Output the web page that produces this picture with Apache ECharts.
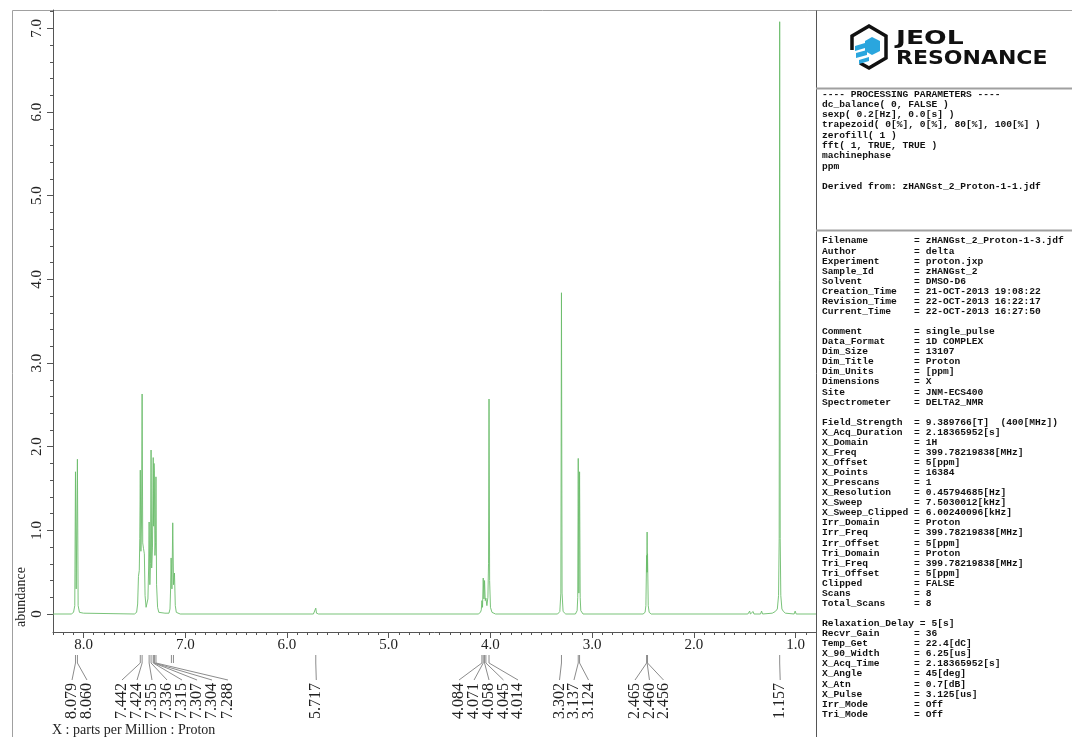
<!DOCTYPE html>
<html>
<head>
<meta charset="utf-8">
<script src="https://cdn.jsdelivr.net/npm/echarts@6/dist/echarts.min.js"></script>
<style>
  html, body { margin: 0; padding: 0; background: #ffffff; }
  #chart { width: 1072px; height: 737px; }
</style>
</head>
<body>
<div id="chart"></div>
<script>
// ---- 1H NMR spectrum (ppm, abundance) : vertices of the trace ----
const spectrum = [
  [8.30, 0.00], [8.12, 0.00], [8.098, 0.02], [8.086, 0.10], [8.079, 1.70], [8.072, 0.30],
  [8.067, 0.32], [8.060, 1.85], [8.053, 0.10], [8.040, 0.02], [8.00, 0.01],
  [7.50, 0.00], [7.478, 0.02], [7.468, 0.12], [7.460, 0.45], [7.452, 0.52], [7.447, 0.90],
  [7.442, 1.72], [7.436, 0.75], [7.430, 1.10], [7.424, 2.63], [7.418, 0.85], [7.410, 0.78],
  [7.402, 0.72], [7.395, 0.22], [7.385, 0.08], [7.375, 0.06], [7.367, 0.18], [7.360, 0.55],
  [7.355, 1.10], [7.348, 0.35], [7.342, 0.60], [7.336, 1.96], [7.330, 0.55], [7.322, 0.80],
  [7.315, 1.87], [7.311, 1.05], [7.307, 1.80], [7.304, 1.72], [7.298, 0.70], [7.292, 0.85],
  [7.288, 1.64], [7.282, 0.35], [7.272, 0.08], [7.260, 0.02], [7.20, 0.01],
  [7.160, 0.01], [7.150, 0.06], [7.144, 0.30], [7.139, 0.67], [7.131, 0.30], [7.123, 1.09],
  [7.115, 0.35], [7.106, 0.49], [7.098, 0.10], [7.088, 0.02], [7.05, 0.00],
  [5.74, 0.00], [5.724, 0.01], [5.717, 0.07], [5.710, 0.01], [5.69, 0.00],
  [4.12, 0.00], [4.098, 0.02], [4.090, 0.05], [4.084, 0.16], [4.078, 0.08], [4.071, 0.43],
  [4.064, 0.18], [4.058, 0.40], [4.051, 0.16], [4.045, 0.19], [4.035, 0.10], [4.025, 0.20],
  [4.019, 0.60], [4.014, 2.57], [4.008, 0.40], [4.000, 0.08], [3.985, 0.02], [3.95, 0.00],
  [3.34, 0.00], [3.318, 0.03], [3.308, 0.25], [3.302, 3.84], [3.296, 0.25], [3.286, 0.03],
  [3.26, 0.00],
  [3.165, 0.00], [3.148, 0.04], [3.142, 0.20], [3.137, 1.86], [3.131, 0.25], [3.124, 1.70],
  [3.118, 0.20], [3.112, 0.04], [3.09, 0.00],
  [2.50, 0.00], [2.480, 0.02], [2.472, 0.10], [2.465, 0.70], [2.462, 0.50], [2.460, 0.98],
  [2.458, 0.50], [2.456, 0.72], [2.449, 0.10], [2.440, 0.02], [2.42, 0.00],
  [1.47, 0.00], [1.452, 0.035], [1.445, 0.00], [1.418, 0.03], [1.410, 0.00],
  [1.345, 0.00], [1.335, 0.035], [1.325, 0.00], [1.23, 0.01], [1.20, 0.03], [1.180, 0.06],
  [1.168, 0.22], [1.162, 0.90], [1.157, 7.08], [1.152, 0.90], [1.146, 0.22], [1.135, 0.06],
  [1.120, 0.03], [1.10, 0.01], [1.015, 0.00], [1.005, 0.035], [0.995, 0.00], [0.80, 0.00]
];

// ---- picked peaks and where their labels sit along the ppm axis ----
const peakPpm = [8.079, 8.060, 7.442, 7.424, 7.355, 7.336, 7.315, 7.307, 7.304, 7.288,
  5.717, 4.084, 4.071, 4.058, 4.045, 4.014, 3.302, 3.137, 3.124, 2.465, 2.460, 2.456, 1.157];
const labelSlotPpm = [8.113, 7.966, 7.622, 7.474, 7.327, 7.179, 7.032, 6.884, 6.737, 6.580,
  5.712, 4.309, 4.161, 4.014, 3.872, 3.729, 3.321, 3.179, 3.036, 2.579, 2.437, 2.299, 1.152];
const unlabeledMarks = [7.136, 7.116];

// ---- axes ----
const xRange = [0.8, 8.3];
const yRange = [-0.215, 7.22];
const xMajorTicks = [8, 7, 6, 5, 4, 3, 2, 1];
const yMajorTicks = [0, 1, 2, 3, 4, 5, 6, 7];
const xMinorStep = 0.1;
const yMinorStep = 0.2;

// ---- parameter panel text ----
const processingLines = [
  '---- PROCESSING PARAMETERS ----',
  'dc_balance( 0, FALSE )',
  'sexp( 0.2[Hz], 0.0[s] )',
  'trapezoid( 0[%], 0[%], 80[%], 100[%] )',
  'zerofill( 1 )',
  'fft( 1, TRUE, TRUE )',
  'machinephase',
  'ppm',
  '',
  'Derived from: zHANGst_2_Proton-1-1.jdf'
];
const paramNames = [
  'Filename', 'Author', 'Experiment', 'Sample_Id', 'Solvent', 'Creation_Time', 'Revision_Time', 'Current_Time', '',
  'Comment', 'Data_Format', 'Dim_Size', 'Dim_Title', 'Dim_Units', 'Dimensions', 'Site', 'Spectrometer', '',
  'Field_Strength', 'X_Acq_Duration', 'X_Domain', 'X_Freq', 'X_Offset', 'X_Points', 'X_Prescans', 'X_Resolution',
  'X_Sweep', 'X_Sweep_Clipped', 'Irr_Domain', 'Irr_Freq', 'Irr_Offset', 'Tri_Domain', 'Tri_Freq', 'Tri_Offset',
  'Clipped', 'Scans', 'Total_Scans', '',
  'Relaxation_Delay', 'Recvr_Gain', 'Temp_Get', 'X_90_Width', 'X_Acq_Time', 'X_Angle', 'X_Atn', 'X_Pulse',
  'Irr_Mode', 'Tri_Mode'
];
const paramValues = [
  'zHANGst_2_Proton-1-3.jdf', 'delta', 'proton.jxp', 'zHANGst_2', 'DMSO-D6', '21-OCT-2013 19:08:22',
  '22-OCT-2013 16:22:17', '22-OCT-2013 16:27:50', '',
  'single_pulse', '1D COMPLEX', '13107', 'Proton', '[ppm]', 'X', 'JNM-ECS400', 'DELTA2_NMR', '',
  '9.389766[T]  (400[MHz])', '2.18365952[s]', '1H', '399.78219838[MHz]', '5[ppm]', '16384', '1',
  '0.45794685[Hz]', '7.5030012[kHz]', '6.00240096[kHz]', 'Proton', '399.78219838[MHz]', '5[ppm]',
  'Proton', '399.78219838[MHz]', '5[ppm]', 'FALSE', '8', '8', '',
  '5[s]', '36', '22.4[dC]', '6.25[us]', '2.18365952[s]', '45[deg]', '0.7[dB]', '3.125[us]', 'Off', 'Off'
];

// minor tick positions between the axis ends
function stepValues(lo, hi, step, skip) {
  const out = [];
  const n0 = Math.ceil(lo / step - 1e-9), n1 = Math.floor(hi / step + 1e-9);
  for (let n = n0; n <= n1; n++) {
    const v = +(n * step).toFixed(4);
    if (skip.indexOf(v) < 0) out.push(v);
  }
  return out;
}
const xMinorTicks = stepValues(xRange[0], xRange[1], xMinorStep, xMajorTicks);
const yMinorTicks = stepValues(yRange[0], yRange[1], yMinorStep, yMajorTicks).filter(v => v >= 0);

const paramText = paramNames.map((n, i) => n === '' ? '' :
  n.padEnd(16, ' ') + (n.length >= 16 ? ' ' : '') + '= ' + paramValues[i]).join('\n');

const serif = '"Liberation Serif", "Times New Roman", serif';
const mono = '"Liberation Mono", "Courier New", monospace';
const axisColor = '#555555';
const frameColor = '#a0a0a0';
const traceColor = '#6cbd6c';

const chart = echarts.init(document.getElementById('chart'), null, { renderer: 'canvas' });

const option = {
  animation: false,
  backgroundColor: '#ffffff',
  grid: { left: 53, right: 256, top: 10, bottom: 105, containLabel: false },
  xAxis: [{
    type: 'value', inverse: true, min: xRange[0], max: xRange[1],
    axisLine: { show: true, onZero: false, lineStyle: { color: axisColor, width: 1 } },
    axisTick: { show: true, customValues: xMajorTicks, length: 6, lineStyle: { color: axisColor } },
    axisLabel: {
      customValues: xMajorTicks, formatter: v => v.toFixed(1), margin: 6,
      color: '#222', fontFamily: serif, fontSize: 15
    },
    splitLine: { show: false }
  }, {
    type: 'value', inverse: true, min: xRange[0], max: xRange[1], position: 'bottom',
    axisLine: { show: false, onZero: false },
    axisTick: { show: true, customValues: xMinorTicks, length: 3, lineStyle: { color: axisColor } },
    axisLabel: { show: false }, splitLine: { show: false }
  }],
  yAxis: [{
    type: 'value', min: yRange[0], max: yRange[1],
    axisLine: { show: true, onZero: false, lineStyle: { color: axisColor, width: 1 } },
    axisTick: { show: true, customValues: yMajorTicks, length: 6, lineStyle: { color: axisColor } },
    axisLabel: {
      customValues: yMajorTicks, rotate: 90, margin: 8,
      formatter: v => v === 0 ? '0' : v.toFixed(1),
      color: '#222', fontFamily: serif, fontSize: 15
    },
    splitLine: { show: false }
  }, {
    type: 'value', min: yRange[0], max: yRange[1], position: 'left',
    axisLine: { show: false, onZero: false },
    axisTick: { show: true, customValues: yMinorTicks, length: 3, lineStyle: { color: axisColor } },
    axisLabel: { show: false }, splitLine: { show: false }
  }],
  series: [{
    type: 'line', name: 'Proton', data: spectrum, xAxisIndex: 0, yAxisIndex: 0,
    showSymbol: false, symbol: 'none', silent: true,
    lineStyle: { color: traceColor, width: 1, opacity: 0.9 }, z: 3
  }, {
    // peak-pick marks with their value labels below the ppm axis
    type: 'custom', xAxisIndex: 0, yAxisIndex: 0, clip: false, silent: true, z: 5,
    data: peakPpm.map((p, i) => [p, labelSlotPpm[i], i]),
    renderItem: (params, api) => {
      const i = api.value(2);
      const xp = api.coord([api.value(0), 0])[0];
      const xl = api.coord([api.value(1), 0])[0];
      const b = params.coordSys.y + params.coordSys.height;
      return {
        type: 'group', children: [{
          type: 'polyline',
          shape: { points: [[xp, b + 23], [xp, b + 31], [xl, b + 48]] },
          style: { stroke: '#8c8c8c', lineWidth: 1, fill: null }
        }, {
          type: 'text', x: xl, y: b + 51, rotation: Math.PI / 2,
          style: {
            text: peakPpm[i].toFixed(3), font: '16px ' + serif, fill: '#222',
            align: 'right', verticalAlign: 'middle'
          }
        }]
      };
    }
  }, {
    // marks without value labels
    type: 'custom', xAxisIndex: 0, yAxisIndex: 0, clip: false, silent: true, z: 5,
    data: unlabeledMarks.map(p => [p, 0]),
    renderItem: (params, api) => {
      const xp = api.coord([api.value(0), 0])[0];
      const b = params.coordSys.y + params.coordSys.height;
      return {
        type: 'line', shape: { x1: xp, y1: b + 23, x2: xp, y2: b + 31 },
        style: { stroke: '#8c8c8c', lineWidth: 1 }
      };
    }
  }],
  graphic: [
    // outer frame and panel dividers
    { type: 'line', shape: { x1: 12.5, y1: 10.5, x2: 1072, y2: 10.5 }, style: { stroke: frameColor, lineWidth: 1 }, silent: true },
    { type: 'line', shape: { x1: 12.5, y1: 10.5, x2: 12.5, y2: 737 }, style: { stroke: frameColor, lineWidth: 1 }, silent: true },
    { type: 'line', shape: { x1: 816.5, y1: 10.5, x2: 816.5, y2: 737 }, style: { stroke: axisColor, lineWidth: 1 }, silent: true },
    { type: 'line', shape: { x1: 816, y1: 88.5, x2: 1072, y2: 88.5 }, style: { stroke: frameColor, lineWidth: 2 }, silent: true },
    { type: 'line', shape: { x1: 816, y1: 230.5, x2: 1072, y2: 230.5 }, style: { stroke: frameColor, lineWidth: 2 }, silent: true },
    // axis names
    {
      type: 'text', x: 21, y: 597, rotation: Math.PI / 2, silent: true,
      style: { text: 'abundance', font: '14px ' + serif, fill: '#222', align: 'center', verticalAlign: 'middle' }
    },
    {
      type: 'text', x: 52, y: 730, silent: true,
      style: { text: 'X : parts per Million : Proton', font: '14px ' + serif, fill: '#222', align: 'left', verticalAlign: 'middle' }
    },
    // JEOL RESONANCE logo
    {
      type: 'polyline', silent: true,
      shape: { points: [[852, 50], [852, 36], [869, 26], [886, 36], [886, 58], [869, 68], [860, 63]] },
      style: { stroke: '#111', lineWidth: 3.5, fill: null, lineJoin: 'miter' }
    },
    {
      type: 'polygon', silent: true,
      shape: { points: [[865, 41], [872, 37], [880, 41], [880, 51], [872, 55], [865, 51]] },
      style: { fill: '#2aa6de' }
    },
    { type: 'polygon', silent: true, shape: { points: [[855, 46], [865, 43], [865, 48], [855, 51]] }, style: { fill: '#2aa6de' } },
    { type: 'polygon', silent: true, shape: { points: [[856, 53], [867, 50], [867, 55], [856, 58]] }, style: { fill: '#2aa6de' } },
    { type: 'polygon', silent: true, shape: { points: [[859, 60], [869, 57], [869, 61], [859, 64]] }, style: { fill: '#2aa6de' } },
    {
      type: 'text', x: 896, y: 38.5, silent: true, scaleX: 1.33,
      style: { text: 'JEOL', font: 'bold 20px "DejaVu Sans", sans-serif', fill: '#111', align: 'left', verticalAlign: 'middle' }
    },
    {
      type: 'text', x: 896, y: 59, silent: true, scaleX: 1.1,
      style: { text: 'RESONANCE', font: 'bold 20px "DejaVu Sans", sans-serif', fill: '#111', align: 'left', verticalAlign: 'middle' }
    },
    // processing parameters and acquisition parameters
    {
      type: 'text', x: 822, y: 89, silent: true,
      style: { text: processingLines.join('\n'), font: 'bold 9.6px ' + mono, lineHeight: 10.3, fill: '#111', align: 'left', verticalAlign: 'top' }
    },
    {
      type: 'text', x: 822, y: 236, silent: true,
      style: { text: paramText, font: 'bold 9.6px ' + mono, lineHeight: 10.07, fill: '#111', align: 'left', verticalAlign: 'top' }
    }
  ]
};

chart.setOption(option);
</script>
</body>
</html>
